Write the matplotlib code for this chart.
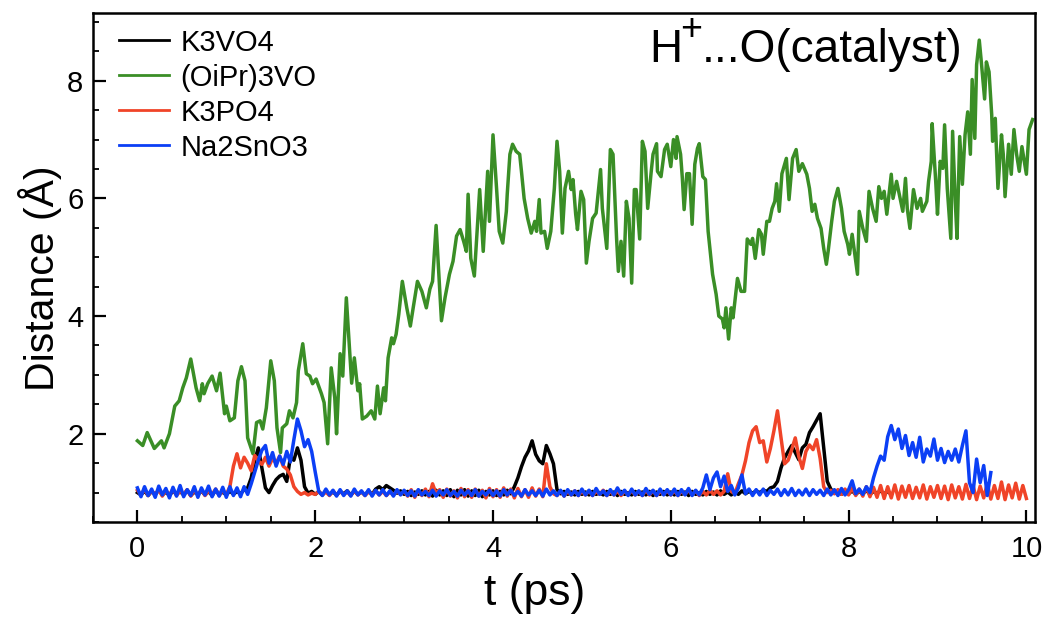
import numpy as np
import matplotlib
matplotlib.use("Agg")
import matplotlib.pyplot as plt
from matplotlib.ticker import MultipleLocator

plt.rcParams['font.family'] = ['Liberation Sans', 'DejaVu Sans']

# H+ ... O(catalyst) distance along the trajectory, sampled every dt ps
dt = 0.04

k3vo4 = [
    1.00, 0.96, 1.03, 0.95, 1.02, 0.97, 1.04, 0.96, 1.01, 0.95, 1.03, 0.97, 1.02, 0.96, 1.04, 0.95, 1.01, 0.97, 1.03, 0.96, 1.02, 0.95, 1.04, 0.97, 1.01,
    0.96, 1.03, 0.97, 1.02, 0.98, 1.05, 1.08, 1.25, 1.55, 1.76, 1.42, 1.08, 1.00, 1.12, 1.22, 1.28, 1.31, 1.19, 1.60, 1.55, 1.76, 1.55, 1.10, 0.99, 1.02,
    0.97, 1.02, 0.96, 1.03, 0.97, 1.01, 0.96, 1.02, 0.98, 1.03, 0.96, 1.02, 0.97, 1.01, 0.96, 1.03, 0.97, 1.06, 1.10, 1.05, 1.12, 1.08, 1.04, 0.99, 1.03,
    0.97, 1.02, 0.95, 1.01, 0.97, 1.03, 0.96, 1.02, 0.94, 1.04, 0.96, 1.03, 0.95, 1.05, 0.93, 1.04, 0.96, 1.05, 0.94, 1.03, 0.95, 1.04, 0.93, 1.02, 0.96,
    1.03, 0.95, 1.02, 0.96, 1.04, 0.98, 1.10, 1.25, 1.44, 1.60, 1.71, 1.88, 1.65, 1.54, 1.49, 1.80, 1.66, 1.49, 1.05, 0.98, 1.02, 0.97, 1.01, 0.96, 1.02,
    0.97, 1.01, 0.96, 1.02, 0.97, 1.00, 0.96, 1.02, 0.97, 1.01, 0.95, 1.02, 0.97, 1.00, 0.96, 1.02, 0.97, 1.01, 0.96, 1.02, 0.95, 1.01, 0.97, 1.02, 0.96,
    1.01, 0.96, 1.02, 0.97, 1.01, 0.95, 1.02, 0.97, 1.00, 0.96, 1.02, 0.97, 1.01, 0.96, 1.03, 0.97, 1.01, 0.96, 1.02, 0.97, 1.03, 0.98, 1.02, 0.99, 1.03,
    1.00, 1.04, 1.02, 1.08, 1.10, 1.19, 1.42, 1.59, 1.70, 1.80, 1.68, 1.56, 1.76, 1.82, 2.02, 2.12, 2.23, 2.34, 1.76, 1.19, 1.06, 0.99, 1.03, 0.97, 1.02,
    0.98, 1.03, 0.97, 1.02, 0.98, 1.04, 0.97, 1.02, 0.99, 1.03, 0.98, 1.02, 0.97,
]

oipr3vo_t = [
    0.00, 0.06, 0.11, 0.19, 0.27, 0.30, 0.36, 0.42, 0.47, 0.51, 0.55, 0.60, 0.63, 0.66, 0.70, 0.73, 0.75, 0.79, 0.84, 0.89,
    0.93, 0.98, 1.00, 1.04, 1.09, 1.13, 1.17, 1.21, 1.24, 1.30, 1.34, 1.38, 1.41, 1.45, 1.50, 1.54, 1.57, 1.61, 1.63, 1.68,
    1.71, 1.75, 1.79, 1.81, 1.86, 1.90, 1.94, 1.97, 2.01, 2.07, 2.10, 2.14, 2.18, 2.22, 2.24, 2.28, 2.31, 2.35, 2.41, 2.44,
    2.48, 2.50, 2.53, 2.58, 2.63, 2.67, 2.70, 2.73, 2.77, 2.79, 2.82, 2.86, 2.88, 2.91, 2.94, 2.98, 3.03, 3.07, 3.10, 3.15,
    3.20, 3.25, 3.29, 3.32, 3.36, 3.42, 3.46, 3.51, 3.55, 3.59, 3.63, 3.67, 3.70, 3.72, 3.75, 3.79, 3.85, 3.89, 3.94, 3.96,
    4.00, 4.04, 4.07, 4.11, 4.15, 4.16, 4.19, 4.22, 4.26, 4.30, 4.32, 4.35, 4.39, 4.43, 4.47, 4.49, 4.52, 4.54, 4.58, 4.61,
    4.65, 4.69, 4.72, 4.75, 4.78, 4.81, 4.85, 4.88, 4.90, 4.93, 4.95, 4.99, 5.02, 5.05, 5.08, 5.12, 5.16, 5.21, 5.23, 5.28,
    5.32, 5.35, 5.39, 5.41, 5.44, 5.47, 5.50, 5.53, 5.56, 5.59, 5.61, 5.65, 5.68, 5.71, 5.74, 5.78, 5.80, 5.84, 5.85, 5.89,
    5.93, 5.96, 6.00, 6.03, 6.06, 6.07, 6.11, 6.13, 6.15, 6.18, 6.21, 6.24, 6.27, 6.30, 6.32, 6.36, 6.39, 6.42, 6.47, 6.51,
    6.54, 6.58, 6.60, 6.62, 6.65, 6.68, 6.70, 6.75, 6.79, 6.83, 6.86, 6.90, 6.92, 6.95, 6.99, 7.02, 7.04, 7.08, 7.11, 7.14,
    7.17, 7.19, 7.22, 7.25, 7.30, 7.33, 7.37, 7.41, 7.44, 7.48, 7.53, 7.56, 7.59, 7.62, 7.65, 7.69, 7.72, 7.75, 7.77, 7.81,
    7.84, 7.88, 7.92, 7.95, 7.99, 8.01, 8.04, 8.07, 8.10, 8.12, 8.16, 8.20, 8.23, 8.27, 8.31, 8.34, 8.37, 8.40, 8.43, 8.48,
    8.50, 8.54, 8.57, 8.61, 8.64, 8.66, 8.69, 8.73, 8.77, 8.81, 8.83, 8.88, 8.90, 8.93, 8.94, 8.98, 9.00, 9.03, 9.06, 9.08,
    9.11, 9.15, 9.17, 9.20, 9.22, 9.25, 9.28, 9.31, 9.34, 9.37, 9.39, 9.42, 9.44, 9.47, 9.49, 9.53, 9.55, 9.58, 9.61, 9.62,
    9.65, 9.68, 9.72, 9.74, 9.76, 9.80, 9.83, 9.86, 9.89, 9.92, 9.95, 10.00, 10.03, 10.07,
]
oipr3vo = [
    1.88, 1.80, 2.02, 1.75, 1.88, 1.76, 2.00, 2.47, 2.56, 2.78, 2.95, 3.27, 3.02, 2.78, 2.56, 2.85, 2.68, 2.85, 2.98, 2.73,
    3.03, 2.34, 2.47, 2.22, 2.27, 2.90, 3.14, 2.90, 1.93, 1.66, 2.19, 2.22, 2.08, 2.44, 3.24, 2.90, 2.10, 1.68, 2.10, 2.17,
    2.39, 2.27, 2.53, 3.07, 3.53, 3.02, 2.98, 2.85, 2.93, 2.68, 2.53, 1.83, 3.12, 2.61, 2.00, 3.36, 2.98, 4.31, 2.86, 3.29,
    2.73, 2.85, 2.25, 2.30, 2.39, 2.25, 2.81, 2.34, 2.78, 2.56, 3.29, 3.63, 3.53, 3.69, 4.03, 4.59, 4.14, 3.83, 4.12, 4.59,
    4.42, 4.14, 4.46, 4.59, 5.54, 3.92, 4.31, 4.71, 4.93, 5.36, 5.47, 5.27, 5.10, 6.07, 4.98, 4.68, 6.15, 5.10, 6.46, 5.61,
    7.08, 6.17, 5.44, 5.24, 5.78, 6.07, 6.75, 6.92, 6.80, 6.75, 6.46, 6.00, 5.66, 5.41, 5.61, 5.44, 5.98, 5.41, 5.44, 5.15,
    5.44, 6.17, 6.97, 6.46, 5.41, 6.17, 6.46, 6.15, 6.32, 5.73, 5.47, 6.12, 5.98, 4.90, 5.27, 5.66, 5.75, 6.49, 5.83, 5.15,
    6.83, 6.75, 5.32, 4.76, 5.27, 4.68, 5.95, 5.66, 4.56, 6.15, 6.15, 5.31, 6.97, 6.80, 5.83, 6.46, 6.75, 6.93, 6.46, 6.37,
    6.83, 6.92, 6.54, 7.00, 6.68, 7.05, 6.75, 6.34, 5.81, 6.42, 6.42, 5.56, 6.58, 6.85, 6.93, 6.37, 6.32, 5.44, 4.71, 4.37,
    4.00, 3.95, 3.80, 4.14, 3.61, 4.14, 3.97, 4.64, 4.42, 4.42, 5.31, 5.22, 5.32, 4.98, 5.47, 5.39, 5.05, 5.61, 5.61, 5.83,
    5.95, 6.25, 5.78, 6.42, 6.68, 5.98, 6.68, 6.83, 6.46, 6.59, 6.41, 6.17, 5.78, 5.90, 5.66, 5.49, 5.15, 4.88, 5.10, 5.61,
    5.95, 6.17, 5.83, 5.44, 5.22, 5.05, 5.39, 5.05, 4.71, 5.78, 5.49, 5.27, 6.12, 5.83, 5.61, 6.20, 6.00, 6.12, 5.73, 6.41,
    6.00, 6.29, 6.07, 5.78, 6.34, 5.83, 5.49, 6.15, 5.83, 6.00, 5.78, 5.95, 6.29, 6.63, 7.27, 6.29, 5.73, 6.63, 6.51, 7.25,
    6.17, 5.32, 7.14, 5.95, 5.32, 7.05, 6.24, 7.08, 7.47, 6.75, 8.02, 7.02, 8.27, 8.69, 8.37, 7.69, 8.32, 8.15, 7.42, 6.97,
    7.36, 6.17, 7.08, 6.75, 6.03, 6.92, 6.41, 7.17, 6.75, 6.46, 6.88, 6.41, 7.17, 7.34,
]

k3po4 = [
    1.04, 0.96, 1.06, 0.95, 1.03, 0.97, 1.05, 0.94, 1.04, 0.96, 1.06, 0.95, 1.03, 0.97, 1.05, 0.94, 1.04, 0.96, 1.05, 0.95, 1.03, 0.97, 1.06, 0.95, 1.04,
    0.97, 1.10, 1.45, 1.66, 1.42, 1.60, 1.50, 1.37, 1.63, 1.54, 1.48, 1.60, 1.45, 1.58, 1.50, 1.62, 1.45, 1.40, 1.30, 1.10, 1.02, 0.97, 1.00, 0.96, 0.99,
    0.97, 1.02, 0.96, 1.01, 0.95, 1.03, 0.96, 1.02, 0.97, 1.01, 0.95, 1.03, 0.96, 1.02, 0.95, 1.01, 0.97, 1.03, 0.96, 1.02, 0.95, 1.01, 0.96, 1.03, 0.97,
    1.02, 0.94, 1.05, 0.92, 1.04, 0.95, 1.06, 0.93, 1.15, 0.98, 1.05, 0.92, 1.06, 0.94, 1.03, 0.91, 1.07, 0.93, 1.05, 0.92, 1.06, 0.94, 1.04, 0.91, 1.07,
    0.93, 1.05, 0.92, 1.08, 0.94, 1.06, 0.91, 1.07, 0.93, 1.05, 0.92, 1.08, 0.94, 1.06, 0.93, 1.49, 1.10, 0.98, 0.95, 1.03, 0.94, 1.02, 0.96, 1.03, 0.95,
    1.02, 0.96, 1.03, 0.95, 1.02, 0.97, 1.04, 0.95, 1.02, 0.96, 1.03, 0.95, 1.02, 0.97, 1.03, 0.96, 1.02, 0.95, 1.04, 0.96, 1.03, 0.95, 1.02, 0.97, 1.03,
    0.96, 1.03, 0.95, 1.02, 0.97, 1.04, 0.96, 1.03, 0.95, 1.02, 0.96, 1.04, 0.97, 1.03, 0.96, 1.02, 1.32, 1.02, 0.98, 1.15, 1.30, 1.54, 1.85, 2.05, 2.12,
    1.85, 1.88, 1.52, 1.75, 2.05, 2.39, 1.93, 1.49, 1.55, 1.73, 1.93, 1.61, 1.41, 1.70, 1.81, 1.73, 1.90, 1.58, 1.10, 1.00, 1.04, 0.98, 1.05, 0.97, 1.06,
    0.96, 1.08, 0.95, 1.06, 0.94, 1.10, 0.93, 1.09, 0.92, 1.12, 0.90, 1.10, 0.91, 1.13, 0.89, 1.11, 0.92, 1.12, 0.90, 1.09, 0.91, 1.13, 0.89, 1.10, 0.92,
    1.12, 0.90, 1.11, 0.88, 1.13, 0.91, 1.10, 0.89, 1.14, 0.90, 1.12, 0.88, 1.11, 0.91, 1.15, 0.89, 1.12, 0.90, 1.18, 0.88, 1.13, 0.91, 1.16, 0.89, 1.12,
    0.90,
]

na2sno3 = [
    1.08, 0.93, 1.10, 0.95, 1.06, 0.92, 1.11, 0.96, 1.07, 0.91, 1.09, 0.94, 1.12, 0.93, 1.05, 0.95, 1.10, 0.92, 1.08, 0.96, 1.11, 0.93, 1.06, 0.94, 1.09,
    0.92, 1.10, 0.95, 1.08, 0.93, 1.10, 0.97, 1.15, 1.35, 1.55, 1.72, 1.80, 1.50, 1.68, 1.45, 1.62, 1.48, 1.70, 1.52, 1.90, 2.25, 2.05, 1.78, 1.90, 1.70,
    1.35, 1.02, 0.95, 1.06, 0.96, 1.04, 0.94, 1.05, 0.95, 1.03, 0.94, 1.06, 0.96, 1.03, 0.95, 1.05, 0.94, 1.04, 0.96, 1.05, 0.95, 1.03, 0.94, 1.05, 0.96,
    1.04, 0.95, 1.03, 0.94, 1.05, 0.96, 1.02, 0.95, 1.04, 0.94, 1.03, 0.96, 1.05, 0.95, 1.02, 0.94, 1.04, 0.96, 1.03, 0.95, 1.05, 0.94, 1.02, 0.96, 1.04,
    0.95, 1.03, 0.94, 1.05, 0.96, 1.04, 0.95, 1.02, 0.94, 1.05, 0.96, 1.03, 0.95, 1.04, 0.94, 1.06, 0.96, 1.03, 0.95, 1.04, 0.94, 1.05, 0.96, 1.03, 0.95,
    1.06, 0.96, 1.04, 0.95, 1.07, 0.97, 1.03, 0.95, 1.05, 0.96, 1.08, 0.97, 1.04, 0.95, 1.06, 0.96, 1.03, 0.95, 1.07, 0.97, 1.04, 0.95, 1.06, 0.96, 1.05,
    0.96, 1.06, 0.95, 1.05, 0.96, 1.07, 0.95, 1.04, 0.96, 1.08, 1.30, 1.05, 1.25, 1.35, 1.10, 1.28, 1.02, 1.12, 0.96, 1.08, 1.30, 0.98, 1.06, 0.95, 1.05,
    0.96, 1.06, 0.95, 1.04, 0.97, 1.06, 0.95, 1.05, 0.96, 1.07, 0.95, 1.04, 0.96, 1.06, 0.95, 1.05, 0.97, 1.04, 0.95, 1.06, 0.96, 1.05, 0.95, 1.07, 0.96,
    1.05, 1.20, 0.98, 1.06, 0.97, 1.10, 1.00, 1.25, 1.45, 1.62, 1.55, 1.95, 2.14, 1.90, 2.08, 1.75, 1.97, 1.63, 1.85, 1.60, 1.94, 1.52, 1.74, 1.62, 1.91,
    1.55, 1.75, 1.51, 1.70, 1.55, 1.74, 1.52, 1.80, 2.05, 1.17, 1.00, 1.57, 1.17, 1.46, 0.95, 1.34,
]

labels = ['K3VO4', '(OiPr)3VO', 'K3PO4', 'Na2SnO3']
colors = ['#000000', '#3a8e26', '#f04428', '#0b3ff5']

fig = plt.figure(figsize=(10.47, 6.21), dpi=100)
ax = fig.add_axes([0.0888, 0.1594, 0.9, 0.8196])

series = [
    (np.arange(len(k3vo4)) * dt, k3vo4),
    (np.array(oipr3vo_t), oipr3vo),
    (np.arange(len(k3po4)) * dt, k3po4),
    (np.arange(len(na2sno3)) * dt, na2sno3),
]
for (t, d), lab, col in zip(series, labels, colors):
    ax.plot(t, d, color=col, lw=2.5, label=lab)

ax.set_xlim(-0.5, 10.1)
ax.set_ylim(0.5, 9.15)
ax.xaxis.set_major_locator(MultipleLocator(2))
ax.xaxis.set_minor_locator(MultipleLocator(0.5))
ax.yaxis.set_major_locator(MultipleLocator(2))
ax.yaxis.set_minor_locator(MultipleLocator(0.5))
ax.tick_params(which='both', direction='in', top=False, right=False, labelsize=21)
ax.tick_params(which='major', length=9, width=1.6)
ax.tick_params(which='minor', length=4.5, width=1.3)
ax.tick_params(axis='x', pad=9)
ax.tick_params(axis='y', pad=7)
for sp in ax.spines.values():
    sp.set_linewidth(1.8)

ax.set_xlabel('t (ps)', fontsize=32)
ax.set_ylabel('Distance (Å)', fontsize=29.5)
ax.xaxis.set_label_coords(0.469, -0.100)
ax.yaxis.set_label_coords(-0.033, 0.479)

# panel tag: H with a large raised plus, then the rest
fig.text(649 / 1047, 0.900, 'H', fontsize=33, ha='left', va='baseline')
fig.text(691 / 1047, 0.952, '+', fontsize=27, ha='center', va='center')
fig.text(962 / 1047, 0.900, '...O(catalyst)', fontsize=33, ha='right', va='baseline')

leg = ax.legend(loc='upper left', bbox_to_anchor=(0.0, 1.021), frameon=False,
                fontsize=21, handlelength=1.7, handletextpad=0.4, labelspacing=0.24)
for line in leg.get_lines():
    line.set_linewidth(2.0)

fig.savefig('out.png', dpi=100)
